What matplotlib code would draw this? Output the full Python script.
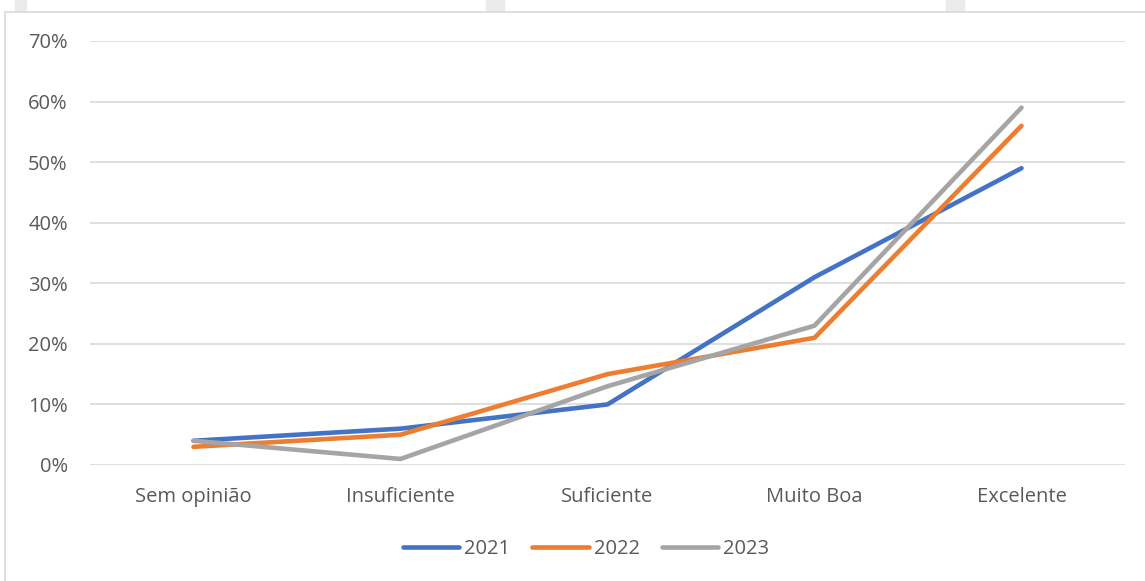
import matplotlib
matplotlib.use("Agg")
import matplotlib.pyplot as plt
from matplotlib.patches import Rectangle
from matplotlib.ticker import PercentFormatter

categories = ["Sem opinião", "Insuficiente", "Suficiente", "Muito Boa", "Excelente"]
years = ["2021", "2022", "2023"]
v2021 = [0.04, 0.06, 0.10, 0.31, 0.49]
v2022 = [0.03, 0.05, 0.15, 0.21, 0.56]
v2023 = [0.04, 0.01, 0.13, 0.23, 0.59]
colors = ["#4472C4", "#ED7D31", "#A5A5A5"]
yticks = [0, 0.1, 0.2, 0.3, 0.4, 0.5, 0.6, 0.7]

W, H = 1145, 581
plt.rcParams['font.family'] = ['Open Sans', 'DejaVu Sans']
fig = plt.figure(figsize=(W / 100, H / 100), dpi=100)

# background stripes at very top
for x0, x1 in [(15, 26), (486, 504), (946, 964)]:
    fig.patches.append(Rectangle((x0 / W, 1 - 12 / H), (x1 - x0) / W, 12 / H,
                                 transform=fig.transFigure, color="#ebebeb", zorder=0))
# chart frame
fig.patches.append(Rectangle((5 / W, -0.05), 1.2, 1 - 12 / H + 0.05,
                             transform=fig.transFigure, facecolor="white",
                             edgecolor="#d9d9d9", linewidth=1.2, zorder=0))

ax = fig.add_axes([90 / W, 1 - 465 / H, (1125 - 90) / W, (465 - 41) / H])
ax.set_zorder(3)
ax.set_facecolor("none")
x = list(range(len(categories)))
for vals, c, lab in zip([v2021, v2022, v2023], colors, years):
    ax.plot(x, vals, color=c, lw=3.3, label=lab, solid_capstyle="round",
            solid_joinstyle="round")

ax.set_xlim(-0.5, len(categories) - 0.5)
ax.set_ylim(0, 0.7)
ax.set_yticks(yticks)
ax.yaxis.set_major_formatter(PercentFormatter(1.0, decimals=0))
ax.set_xticks(x)
ax.set_xticklabels(categories)
ax.grid(axis="y", color="#d9d9d9", lw=1.2)
ax.set_axisbelow(True)
for s in ax.spines.values():
    s.set_visible(False)
ax.tick_params(axis="both", length=0, labelsize=14.5, colors="#595959")
ax.tick_params(axis="x", pad=16)
ax.tick_params(axis="y", pad=16)

leg = fig.legend(loc="center", bbox_to_anchor=(586 / W, 1 - 549 / H), ncol=3,
                 frameon=False, fontsize=14.5, handlelength=2.8, handletextpad=0.25,
                 columnspacing=1.1)
leg.set_zorder(4)
for t in leg.get_texts():
    t.set_color("#595959")

fig.savefig("out.png", dpi=100)
